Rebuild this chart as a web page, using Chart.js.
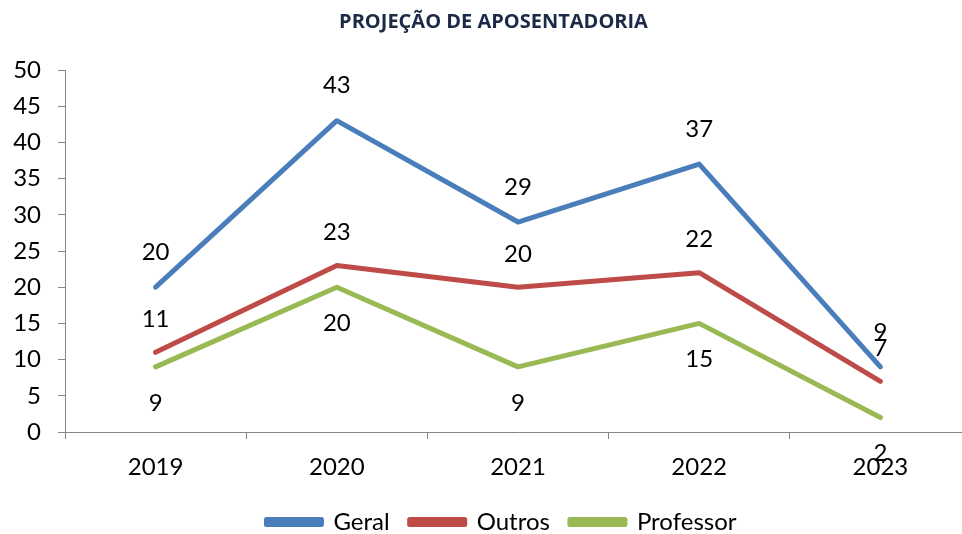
<!DOCTYPE html>
<html><head><meta charset="utf-8">
<script src="https://cdn.jsdelivr.net/npm/chart.js@4/dist/chart.umd.min.js"></script>
<style>html,body{margin:0;padding:0;background:#fff;overflow:hidden}#wrap{width:972px;height:534px;position:relative}</style>
</head><body><div id="wrap"><canvas id="c"></canvas></div>
<script>
const categories = ['2019', '2020', '2021', '2022', '2023'];
const geral = [20, 43, 29, 37, 9];
const outros = [11, 23, 20, 22, 7];
const professor = [9, 20, 9, 15, 2];
const yMin = 0, yMax = 50, yStep = 5;

const LEGEND_PAD = 20;
const labelPlugin = {
  id: 'dl',
  afterDatasetsDraw(chart) {
    const ctx = chart.ctx;
    ctx.save();
    ctx.font = '24px Lato';
    ctx.fillStyle = '#000';
    ctx.textAlign = 'center';
    ctx.textBaseline = 'middle';
    chart.data.datasets.forEach((ds, i) => {
      const meta = chart.getDatasetMeta(i);
      meta.data.forEach((pt, j) => {
        ctx.fillText(String(ds.data[j]), pt.x, pt.y + ds.labelOffset);
      });
    });
    ctx.restore();
  }
};
const shiftPlugin = {
  id: 'shift',
  afterLayout(chart) {
    const lg = chart.legend;
    if (lg) {
      const dy = (522 - LEGEND_PAD - 12) - lg.top;
      lg.top += dy; lg.bottom += dy;
      lg.left += 16; lg.right += 16;
    }
    if (chart.titleBlock) { chart.titleBlock.left += 8; chart.titleBlock.right += 8; }
  }
};
const bg = { id: 'bg', beforeDraw(c) { const x = c.ctx; x.save(); x.fillStyle = '#fff'; x.fillRect(0, 0, c.width, c.height); x.restore(); } };

new Chart(document.getElementById('c'), {
  type: 'line',
  data: {
    labels: categories,
    datasets: [
      { label: 'Geral', data: geral, borderColor: '#4a7ebb', backgroundColor: '#4a7ebb', labelOffset: -35 },
      { label: 'Outros', data: outros, borderColor: '#be4b48', backgroundColor: '#be4b48', labelOffset: -33 },
      { label: 'Professor', data: professor, borderColor: '#98b954', backgroundColor: '#98b954', labelOffset: 36 }
    ]
  },
  options: {
    responsive: true, maintainAspectRatio: false, animation: false,
    datasets: { line: { borderWidth: 5, tension: 0, pointRadius: 0, pointHoverRadius: 0, borderCapStyle: 'round', borderJoinStyle: 'round', fill: false } },
    layout: { padding: { left: 0, right: 1, top: 0, bottom: 0 } },
    plugins: {
      title: { display: true, text: 'PROJEÇÃO DE APOSENTADORIA', color: '#1b2a47', font: { family: 'Open Sans', size: 20, weight: 'bold', lineHeight: 1.2 }, padding: { top: 10, bottom: 36 } },
      legend: { position: 'bottom', labels: { font: { family: 'Lato', size: 24 }, color: '#000', boxWidth: 55, boxHeight: 5, padding: LEGEND_PAD } },
      tooltip: { enabled: false }
    },
    scales: {
      x: {
        offset: true,
        grid: { offset: true, drawOnChartArea: false, drawTicks: true, tickLength: 7, tickColor: '#868686' },
        border: { color: '#868686', width: 1 },
        ticks: { font: { family: 'Lato', size: 24 }, color: '#000', padding: 14 },
        afterFit(s) { s.height = Math.max(0, 534 - 432 - s.chart.legend.height); }
      },
      y: {
        min: yMin, max: yMax,
        grid: { drawOnChartArea: false, drawTicks: true, tickLength: 7, tickColor: '#868686' },
        border: { color: '#868686', width: 1 },
        ticks: { stepSize: yStep, font: { family: 'Lato', size: 24 }, color: '#000', padding: 17 },
        afterFit(s) { s.width = 65; }
      }
    }
  },
  plugins: [bg, labelPlugin, shiftPlugin]
});
</script></body></html>
